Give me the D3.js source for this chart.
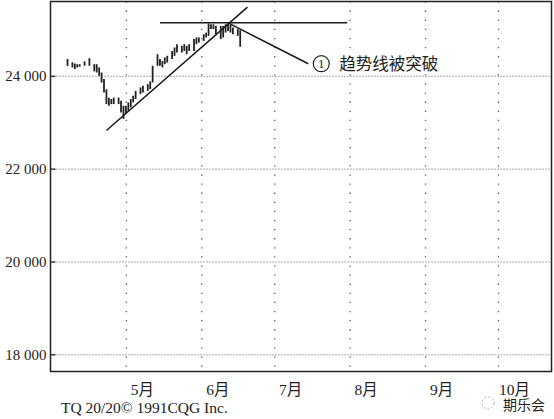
<!DOCTYPE html>
<html>
<head>
<meta charset="utf-8">
<script src="https://cdn.jsdelivr.net/npm/d3@7"></script>
<style>
  body { margin: 0; background: #fff; }
  svg { display: block; }
  text { font-family: "Liberation Serif", "Noto Sans CJK SC", serif; fill: #222; }
</style>
</head>
<body>
<div id="chart"></div>
<script>
const width = 554, height = 419;
const margin = { top: 1.5, right: 2.5, bottom: 47.5, left: 50.5 };
const innerwidth = width - margin.left - margin.right;
const innerheight = height - margin.top - margin.bottom;

// daily bars (1991)
const dates = [
  "04-07","04-09","04-10","04-11","04-12","04-14","04-16","04-18","04-19","04-20",
  "04-21","04-22","04-23","04-24","04-25","04-26","04-28","04-29","04-30","05-01",
  "05-02","05-03","05-04","05-05","05-07","05-08","05-10","05-11","05-12","05-14",
  "05-15","05-16","05-17","05-18","05-20","05-21","05-22","05-24","05-25","05-26",
  "05-27","05-29","05-30","05-31","06-02","06-03","06-04","06-05","06-06","06-07",
  "06-09","06-10","06-11","06-12","06-13","06-14","06-16","06-17"
];
const highs = [
  24360,24290,24265,24250,24250,24310,24380,24250,24250,24180,
  24070,23930,23710,23530,23500,23530,23530,23460,23355,23355,
  23425,23500,23570,23675,23750,23785,23820,23880,24215,24465,
  24360,24320,24395,24430,24535,24610,24680,24645,24680,24645,
  24680,24790,24825,24825,24895,24930,25125,25110,25110,25075,
  25075,25075,25110,25125,25095,25040,25005,24980
];
const lows = [
  24210,24180,24145,24180,24195,24215,24215,24095,24070,24000,
  23855,23640,23390,23355,23390,23390,23390,23210,23070,23175,
  23245,23320,23425,23500,23605,23640,23675,23715,23855,24215,
  24215,24180,24250,24285,24360,24430,24500,24500,24535,24465,
  24535,24535,24680,24715,24750,24825,24860,25005,25005,24895,
  24790,24825,24930,24965,24930,24895,24860,24625
];

const yTicks = [18000, 20000, 22000, 24000];
const monthTicks = ["05-01","06-01","07-01","08-01","09-01","10-01"];
const monthLabels = ["5月","6月","7月","8月","9月","10月"];

// annotation lines: [date, value]
const trendLine = [["04-23", 22820], ["06-20", 25480]];
const resistLine = [["05-15", 25140], ["07-31", 25140]];
const calloutLine = [["06-12", 25140], ["07-15", 24260]];
const calloutText = "趋势线被突破";
const footer = "TQ 20/20© 1991CQG Inc.";
const watermark = "期乐会";

const parse = s => d3.timeParse("%Y-%m-%d")("1991-" + s);

const xScale = d3.scaleTime()
  .domain([parse("03-31"), parse("10-23")])
  .range([0, innerwidth]);
const yScale = d3.scaleLinear()
  .domain([17630, 25600])
  .range([innerheight, 0]);

const svg = d3.select("#chart").append("svg")
  .attr("width", width).attr("height", height)
  .attr("viewBox", `0 0 ${width} ${height}`);

const innerChart = svg.append("g")
  .attr("transform", `translate(${margin.left},${margin.top})`);

// vertical dotted grid
innerChart.append("g")
  .call(d3.axisBottom(xScale).tickValues(monthTicks.map(parse)).tickSize(innerheight).tickFormat(""))
  .call(g => g.select(".domain").remove())
  .call(g => g.selectAll("line").attr("stroke", "#555").attr("stroke-width", 1.3).attr("stroke-dasharray", "1.3,7.8"));

// horizontal dotted grid
innerChart.append("g")
  .call(d3.axisLeft(yScale).tickValues(yTicks).tickSize(-innerwidth).tickFormat(""))
  .call(g => g.select(".domain").remove())
  .call(g => g.selectAll("line").attr("stroke", "#555").attr("stroke-width", 1).attr("stroke-dasharray", "1,2"));

// y axis labels + short ticks
innerChart.append("g")
  .call(d3.axisLeft(yScale).tickValues(yTicks).tickSize(-5).tickPadding(4)
    .tickFormat(d => d3.format(",")(d).replace(",", " ")))
  .call(g => g.select(".domain").remove())
  .call(g => g.selectAll("line").attr("stroke", "#222").attr("stroke-width", 1.2))
  .call(g => g.selectAll("text").attr("font-size", 15).attr("font-family", "Liberation Serif").attr("fill", "#222"));

// month labels
innerChart.append("g")
  .attr("transform", `translate(0,${innerheight})`)
  .call(d3.axisBottom(xScale).tickValues(monthTicks.map(parse)).tickSize(0).tickPadding(12)
    .tickFormat((d, i) => monthLabels[i]))
  .call(g => g.select(".domain").remove())
  .call(g => g.selectAll("text").attr("dx", 16).attr("font-size", 15.5).attr("fill", "#222")
    .attr("font-family", "'Liberation Serif', 'Noto Sans CJK SC'"));

// frame
innerChart.append("rect")
  .attr("width", innerwidth).attr("height", innerheight)
  .attr("fill", "none").attr("stroke", "#222").attr("stroke-width", 1.5);

// price bars
innerChart.selectAll(".bar")
  .data(dates)
  .join("line")
  .attr("class", "bar")
  .attr("x1", d => xScale(parse(d)))
  .attr("x2", d => xScale(parse(d)))
  .attr("y1", (d, i) => yScale(highs[i]))
  .attr("y2", (d, i) => yScale(lows[i]))
  .attr("stroke", "#222")
  .attr("stroke-width", 1.8);

const line = d3.line().x(d => xScale(parse(d[0]))).y(d => yScale(d[1]));
[trendLine, resistLine, calloutLine].forEach(pts => {
  innerChart.append("path")
    .attr("d", line(pts))
    .attr("fill", "none")
    .attr("stroke", "#1a1a1a")
    .attr("stroke-width", 1.5);
});

// callout marker and text
const cEnd = calloutLine[1];
const cx = xScale(parse(cEnd[0])) + 13;
const cy = yScale(cEnd[1]);
innerChart.append("circle")
  .attr("cx", cx).attr("cy", cy).attr("r", 8)
  .attr("fill", "#fff").attr("stroke", "#222").attr("stroke-width", 1.2);
innerChart.append("text")
  .attr("x", cx).attr("y", cy + 4.5)
  .attr("text-anchor", "middle")
  .attr("font-size", 13)
  .text("1");
innerChart.append("text")
  .attr("x", cx + 18).attr("y", cy + 6)
  .attr("font-size", 16.5)
  .attr("font-family", "'Noto Sans CJK SC'")
  .attr("fill", "#333")
  .text(calloutText);

// footer
svg.append("text")
  .attr("x", 61).attr("y", 413)
  .attr("font-size", 15.5)
  .text(footer);

// watermark
svg.append("circle").attr("cx", 488).attr("cy", 403).attr("r", 6)
  .attr("fill", "none").attr("stroke", "#aaa").attr("stroke-dasharray", "2,2");
svg.append("text")
  .attr("x", 503).attr("y", 410)
  .attr("font-size", 14)
  .attr("font-family", "'Noto Sans CJK SC'")
  .attr("fill", "#555")
  .text(watermark);
</script>
</body>
</html>
